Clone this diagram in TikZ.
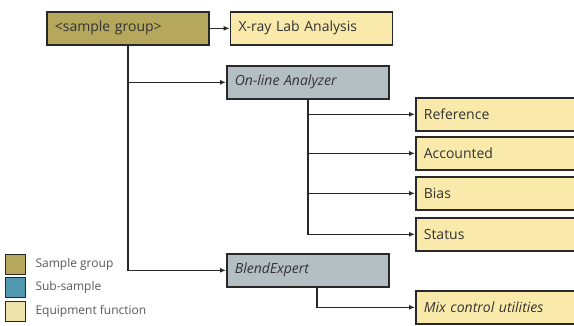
\documentclass[tikz,border=0pt]{standalone}
\usepackage{fontspec}
\setmainfont{Open Sans}
\usetikzlibrary{arrows.meta, positioning}

\definecolor{groupolive}{RGB}{181,168,92}
\definecolor{subteal}{RGB}{80,152,174}
\definecolor{subgrey}{RGB}{180,191,195}
\definecolor{funcyellow}{RGB}{249,233,171}
\definecolor{legendyellow}{RGB}{238,226,170}
\definecolor{linegrey}{RGB}{40,40,40}

\begin{document}
\begin{tikzpicture}[
    x=1pt, y=-1pt,
    font=\fontsize{14}{16}\selectfont,
    box/.style={draw=linegrey, line width=1.7pt, text=black!80, minimum height=33pt, minimum width=162pt, text width=146pt, align=left, inner xsep=8pt, anchor=north west},
    groupbox/.style={box, fill=groupolive},
    subbox/.style={box, fill=subgrey, font=\fontsize{14}{16}\selectfont\itshape},
    funcbox/.style={box, fill=funcyellow},
    leafbox/.style={funcbox, minimum width=200pt, text width=184pt},
    legendsq/.style={draw=linegrey, line width=1.3pt, minimum size=20pt, inner sep=0pt, anchor=north west},
    legendtxt/.style={font=\fontsize{12}{14}\selectfont, text=black!65, inner sep=0pt},
    link/.style={line width=1.6pt, draw=linegrey, -{Latex[length=6pt,width=5pt]}}
]
    \useasboundingbox[fill=white] (0,0) rectangle (574,326);

    % Nodes
    \node[groupbox] (group) at (46,11) {<sample group>};
    \node[funcbox, right=20pt of group] (xray) {X-ray Lab Analysis};
    \node[subbox] (online) at (226,65) {On-line Analyzer};
    \node[subbox] (blend) at (226,253) {BlendExpert};

    \node[leafbox] (ref) at (415,97) {Reference};
    \node[leafbox] (acc) at (415,136) {Accounted};
    \node[leafbox] (bias) at (415,176) {Bias};
    \node[leafbox] (status) at (415,217) {Status};
    \node[leafbox, font=\fontsize{14}{16}\selectfont\itshape] (mix) at (415,290) {Mix control utilities};

    % Connections
    \draw[link] (group) -- (xray);
    \draw[link] (group.south) |- (online.west);
    \draw[link] (group.south) |- (blend.west);
    \draw[link] (online.south) |- (ref.west);
    \draw[link] (online.south) |- (acc.west);
    \draw[link] (online.south) |- (bias.west);
    \draw[link] (online.south) |- (status.west);
    \draw[link] ([xshift=9pt]blend.south) |- (mix.west);

    % Legend
    \node[legendsq, fill=groupolive] (lgroup) at (5,254) {};
    \node[legendsq, fill=subteal] (lsub) at (5,277) {};
    \node[legendsq, fill=legendyellow] (lfunc) at (5,301) {};
    \node[legendtxt, right=9pt of lgroup] (lgrouptxt) {Sample group};
    \node[legendtxt, right=9pt of lsub] (lsubtxt) {Sub-sample};
    \node[legendtxt, right=9pt of lfunc] (lfunctxt) {Equipment function};
\end{tikzpicture}
\end{document}
